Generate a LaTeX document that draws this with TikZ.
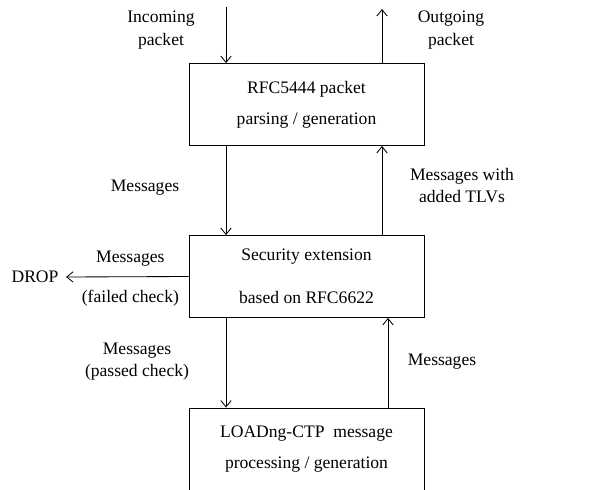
\documentclass[tikz,border=0pt]{standalone}
\usepackage{fontspec}
\setmainfont{Liberation Serif}
\usetikzlibrary{arrows.meta,positioning}
\tikzset{
  blk/.style={draw, line width=.6pt, minimum width=5.875cm, minimum height=2.05cm, align=center},
  lbl/.style={align=center, inner sep=0pt},
}
\begin{document}
\begin{tikzpicture}[>={Straight Barb[length=1.6mm,width=2.6mm]}, line width=.6pt,
  font=\fontsize{12.5}{16}\selectfont]
\useasboundingbox (0,0) rectangle (15.375,12.225);

% the three stages
\node[blk] (parse) at (7.6625,9.6125) {RFC5444 packet\\[.22cm] parsing / generation};
\node[blk] (sec) at (7.6625,5.3125) {Security extension\\[.52cm] based on RFC6622};
\node[blk] (ctp) at (7.6625,1.0) {LOADng-CTP~~message\\[.22cm] processing / generation};

% free ends
\coordinate (in) at (5.65,12.05);
\coordinate (out) at (9.55,12.0);
\node[lbl] (drop) at (0.875,5.3) {DROP};

% labels
\node[lbl] (inlbl) at (4.025,11.475) {Incoming\\packet};
\node[lbl] (outlbl) at (11.275,11.475) {Outgoing\\packet};
\node[lbl] (down1) at (3.625,7.525) {Messages};
\node[lbl] (up1) at (11.55,7.5875) {Messages with\\added TLVs};
\node[lbl] (fail) at (3.26,5.25) {Messages\\[.44cm](failed check)};
\node[lbl] (down2) at (3.425,3.1875) {Messages\\(passed check)};
\node[lbl] (up2) at (11.05,3.175) {Messages};

% arrows
\draw[->] (in) -- (in |- parse.north);
\draw[->] (out |- parse.north) -- (out);
\draw[->] (in |- parse.south) -- (in |- sec.north);
\draw[->] (out |- sec.north) -- (out |- parse.south);
\draw[->] (sec.west) -- ([xshift=.18cm]drop.east);
\draw[->] (in |- sec.south) -- (in |- ctp.north);
\draw[->] ([xshift=.15cm]out |- ctp.north) -- ([xshift=.15cm]out |- sec.south);
\end{tikzpicture}
\end{document}
